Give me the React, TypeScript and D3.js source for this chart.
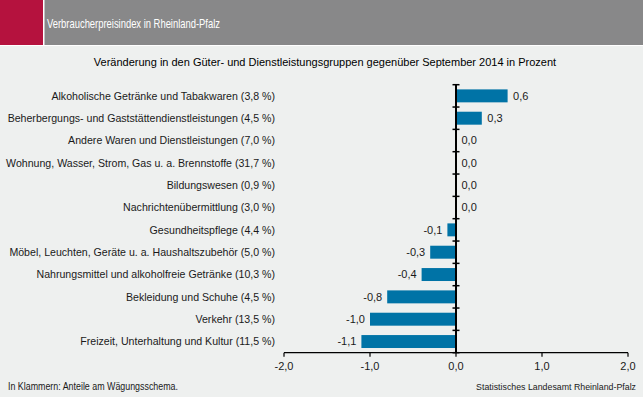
import { useMemo } from 'react';
import * as d3 from 'd3';

const categories = [
  'Alkoholische Getränke und Tabakwaren (3,8 %)',
  'Beherbergungs- und Gaststättendienstleistungen (4,5 %)',
  'Andere Waren und Dienstleistungen (7,0 %)',
  'Wohnung, Wasser, Strom, Gas u. a. Brennstoffe (31,7 %)',
  'Bildungswesen (0,9 %)',
  'Nachrichtenübermittlung (3,0 %)',
  'Gesundheitspflege (4,4 %)',
  'Möbel, Leuchten, Geräte u. a. Haushaltszubehör (5,0 %)',
  'Nahrungsmittel und alkoholfreie Getränke (10,3 %)',
  'Bekleidung und Schuhe (4,5 %)',
  'Verkehr (13,5 %)',
  'Freizeit, Unterhaltung und Kultur (11,5 %)',
];
const values = [0.6, 0.3, 0.0, 0.0, 0.0, 0.0, -0.1, -0.3, -0.4, -0.8, -1.0, -1.1];
const xTicks = [-2, -1, 0, 1, 2];

const title = 'Verbraucherpreisindex in Rheinland-Pfalz';
const subtitle = 'Veränderung in den Güter- und Dienstleistungsgruppen gegenüber September 2014 in Prozent';
const noteLeft = 'In Klammern: Anteile am Wägungsschema.';
const noteRight = 'Statistisches Landesamt Rheinland-Pfalz';

const W = 643;
const H = 397;
const FONT = '"Liberation Sans", Arial, sans-serif';
const NARROW = '"Liberation Sans Narrow", "Liberation Sans", Arial, sans-serif';
const fmt = (v: number) => v.toFixed(1).replace('.', ',');

export default function App() {
  const x = useMemo(() => d3.scaleLinear().domain([-2, 2]).range([284, 628]), []);
  const y = useMemo(
    () => d3.scaleBand<string>().domain(categories).range([84.7, 352.7]).paddingInner(0.42).paddingOuter(0.21),
    []
  );
  const yOuter = d3.scaleBand<string>().domain(categories).range([84.7, 352.7]);
  const bw = y.bandwidth();
  const axisY = 352.7;

  return (
    <svg width={W} height={H} style={{ position: 'absolute', left: 0, top: 0, display: 'block' }}>
      <rect x={0} y={0} width={W} height={H} fill="#ffffff" />
      <rect x={0} y={46} width={W} height={H - 46} fill="#eef0ef" />
      <rect x={0} y={0} width={43} height={45} fill="#b5123e" />
      <rect x={44.5} y={0} width={W - 44.5} height={45} fill="#888889" />
      <text x={47} y={28} fill="#ffffff" fontFamily={NARROW} fontSize={13} textLength={173} lengthAdjust="spacingAndGlyphs">
        {title}
      </text>

      <text x={325} y={66} textAnchor="middle" fontFamily={FONT} fontSize={11} fill="#000">
        {subtitle}
      </text>

      {/* bars */}
      {categories.map((c, i) => {
        const v = values[i];
        return (
          <rect
            key={c}
            x={Math.min(x(0), x(v))}
            y={y(c)}
            width={Math.abs(x(v) - x(0))}
            height={bw}
            fill="#0073a6"
          />
        );
      })}

      {/* category labels */}
      {categories.map((c) => (
        <text
          key={c}
          x={275}
          y={(yOuter(c) as number) + yOuter.bandwidth() / 2}
          dy="0.35em"
          textAnchor="end"
          fontFamily={FONT}
          fontSize={10.6}
          fill="#1a1a1a"
        >
          {c}
        </text>
      ))}

      {/* value labels */}
      {categories.map((c, i) => {
        const v = values[i];
        const neg = v < 0;
        return (
          <text
            key={c}
            x={neg ? x(v) - 5 : x(v) + 5.5}
            y={(yOuter(c) as number) + yOuter.bandwidth() / 2}
            dy="0.35em"
            textAnchor={neg ? 'end' : 'start'}
            fontFamily={FONT}
            fontSize={11}
            fill="#1a1a1a"
          >
            {fmt(v)}
          </text>
        );
      })}

      {/* x axis */}
      <line x1={x(-2)} x2={x(2)} y1={axisY} y2={axisY} stroke="#000" strokeWidth={1.2} />
      {xTicks.map((t) => (
        <g key={t}>
          <line x1={x(t)} x2={x(t)} y1={axisY} y2={axisY + 4} stroke="#000" strokeWidth={1.2} />
          <text x={x(t)} y={370} textAnchor="middle" fontFamily={FONT} fontSize={11} fill="#1a1a1a">
            {fmt(t)}
          </text>
        </g>
      ))}

      {/* vertical zero axis with category ticks */}
      <line x1={x(0)} x2={x(0)} y1={84.7} y2={axisY} stroke="#000" strokeWidth={2} />
      {[...categories.map((c) => yOuter(c) as number), axisY].map((ty, i) => (
        <line key={i} x1={x(0) - 3.5} x2={x(0) + 3.5} y1={ty} y2={ty} stroke="#000" strokeWidth={1.5} />
      ))}

      <text x={8} y={390} fontFamily={NARROW} fontSize={10} fill="#1a1a1a" textLength={170} lengthAdjust="spacingAndGlyphs">
        {noteLeft}
      </text>
      <text x={636} y={390} textAnchor="end" fontFamily={FONT} fontSize={8.8} fill="#1a1a1a">
        {noteRight}
      </text>
    </svg>
  );
}
